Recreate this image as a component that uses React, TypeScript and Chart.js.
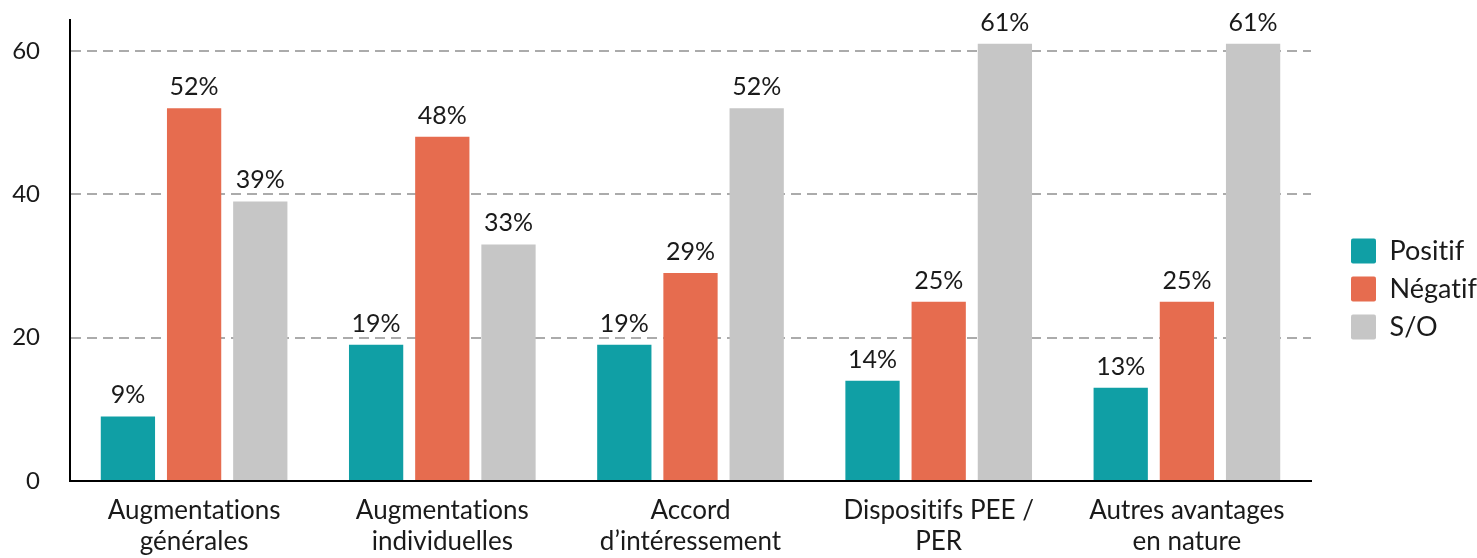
import React, { useEffect, useRef } from "react";
import { Chart, registerables } from "chart.js";

Chart.register(...registerables);

const categories: string[][] = [
  ["Augmentations", "générales"],
  ["Augmentations", "individuelles"],
  ["Accord", "d’intéressement"],
  ["Dispositifs PEE /", "PER"],
  ["Autres avantages", "en nature"],
];
const positif = [9, 19, 19, 14, 13];
const negatif = [52, 48, 29, 25, 25];
const sansObjet = [39, 33, 52, 61, 61];
const seriesNames = ["Positif", "Négatif", "S/O"];
const seriesColors = ["#109FA5", "#E66C4F", "#C6C6C6"];
const yTickValues = [0, 20, 40, 60];
const yMax = 64.3;

const FONT = "Lato, 'Noto Sans', sans-serif";

const valueLabels = {
  id: "valueLabels",
  beforeLayout(chart: any) {
    const lg = chart.legend;
    if (lg && !lg.__patched) {
      const orig = lg.fit.bind(lg);
      lg.fit = () => {
        orig();
        lg.width = 137;
      };
      lg.__patched = true;
    }
  },
  beforeDraw(chart: any) {
    try {
      (chart.ctx as any).textRendering = "optimizeSpeed";
    } catch (e) {}
  },
  afterDatasetsDraw(chart: any) {
    const ctx = chart.ctx;
    ctx.save();
    ctx.font = `25px ${FONT}`;
    ctx.fillStyle = "#1a1a1a";
    ctx.textAlign = "center";
    ctx.textBaseline = "alphabetic";
    chart.data.datasets.forEach((ds: any, di: number) => {
      const meta = chart.getDatasetMeta(di);
      meta.data.forEach((el: any, i: number) => {
        ctx.fillText(`${ds.data[i]}%`, el.x, el.y - 13);
      });
    });
    ctx.restore();
  },
};

export default function App() {
  const ref = useRef<HTMLCanvasElement | null>(null);
  useEffect(() => {
    if (!ref.current) return;
    const chart = new Chart(ref.current, {
      type: "bar",
      data: {
        labels: categories,
        datasets: [
          { label: seriesNames[0], data: positif, backgroundColor: seriesColors[0] },
          { label: seriesNames[1], data: negatif, backgroundColor: seriesColors[1] },
          { label: seriesNames[2], data: sansObjet, backgroundColor: seriesColors[2] },
        ],
      },
      options: {
        animation: false,
        responsive: true,
        maintainAspectRatio: false,
        datasets: { bar: { barPercentage: 0.82, categoryPercentage: 0.8 } },
        layout: { padding: { top: 20, left: 12, right: 0, bottom: 0 } },
        plugins: {
          tooltip: { enabled: false },
          legend: {
            position: "right",
            labels: {
              font: { family: FONT, size: 27 },
              color: "#1a1a1a",
              boxWidth: 25,
              boxHeight: 25,
              padding: 11,
              useBorderRadius: true,
              borderRadius: 2,
            },
          },
        },
        scales: {
          x: {
            grid: { display: false, drawTicks: false },
            border: { display: true, color: "#000", width: 2 },
            ticks: {
              font: { family: FONT, size: 26 },
              color: "#1a1a1a",
              padding: 14,
              maxRotation: 0,
              autoSkip: false,
            },
            afterFit: (scale: any) => {
              scale.height = 77;
              scale.paddingLeft = 0;
              scale.paddingRight = 0;
            },
          },
          y: {
            min: 0,
            max: yMax,
            afterBuildTicks: (scale: any) => {
              scale.ticks = yTickValues.map((v) => ({ value: v }));
            },
            grid: {
              color: "#ababab",
              lineWidth: 2,
              drawTicks: false,
            },
            border: { display: true, color: "#000", width: 2, dash: [10, 6] },
            ticks: {
              font: { family: FONT, size: 24 },
              color: "#1a1a1a",
              padding: 30,
            },
            afterFit: (scale: any) => {
              scale.width = 58;
              scale.paddingTop = 0;
              scale.paddingBottom = 0;
            },
          },
          y2: {
            position: "right",
            display: true,
            grid: { display: false, drawTicks: false },
            border: { display: false },
            ticks: { display: false },
            afterFit: (scale: any) => {
              scale.width = 29;
              scale.paddingTop = 0;
              scale.paddingBottom = 0;
            },
          },
        },
      },
      plugins: [valueLabels],
    });
    return () => chart.destroy();
  }, []);
  return (
    <div style={{ position: "absolute", left: 0, top: 0, width: 1477, height: 558 }}>
      <canvas ref={ref} />
    </div>
  );
}
